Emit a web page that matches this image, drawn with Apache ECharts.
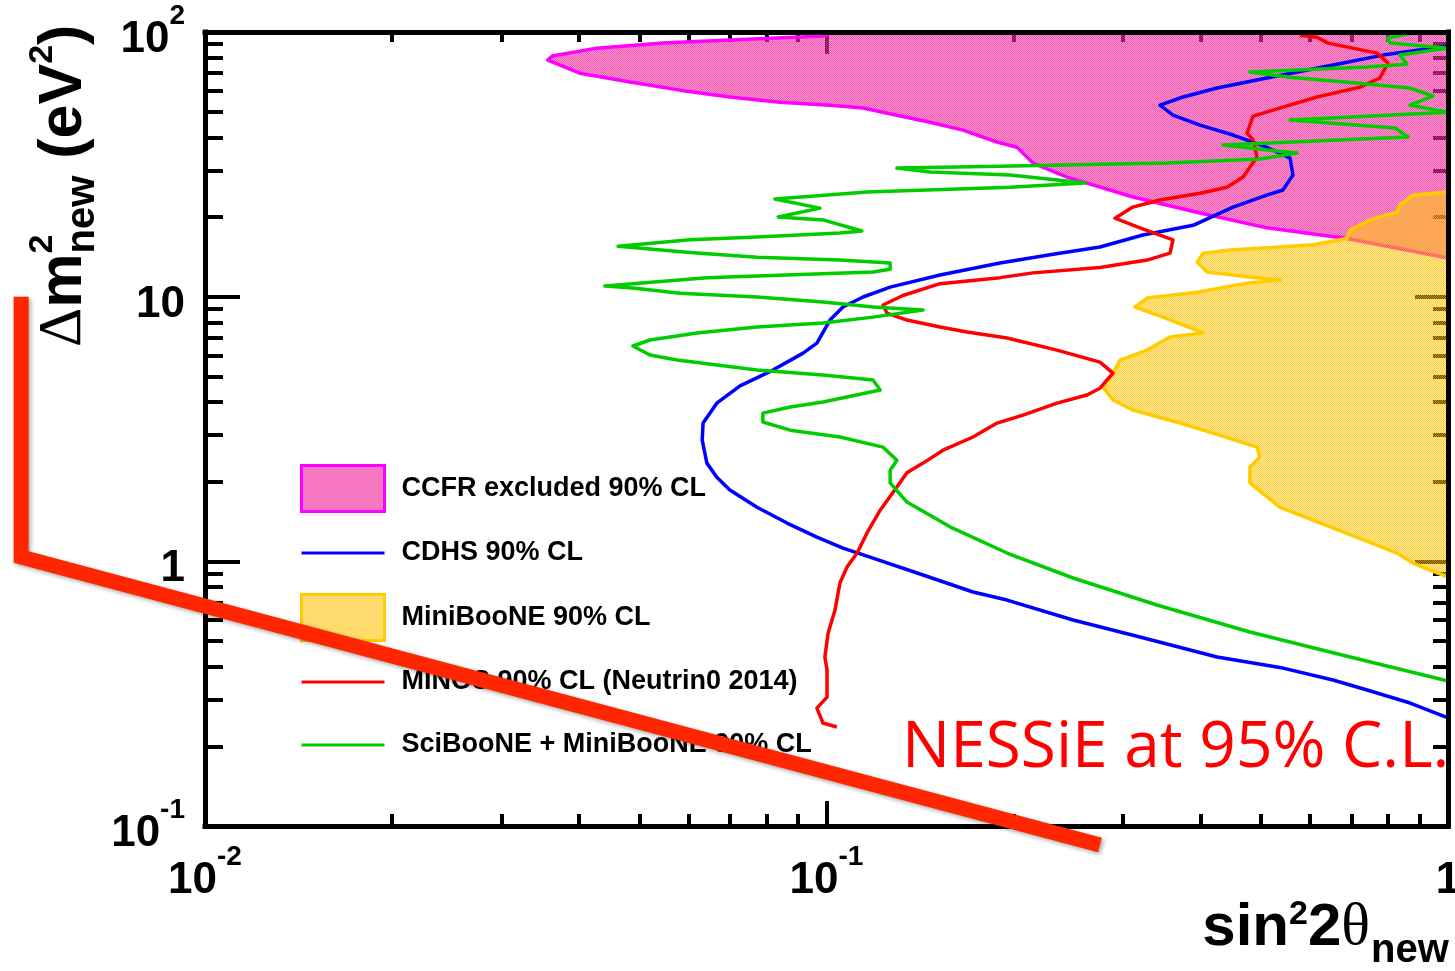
<!DOCTYPE html>
<html><head><meta charset="utf-8">
<script src="https://cdn.jsdelivr.net/npm/echarts@6/dist/echarts.min.js"></script>
<style>html,body{margin:0;padding:0;background:#fff}#c{width:1455px;height:971px}</style>
</head><body><div id="c"></div>
<script>
// ---------- data ----------
const xTickValues = [0.01, 0.1, 1];
const xTickLabels = [['10', '-2'], ['10', '-1'], ['1', '']];
const yTickValues = [0.1, 1, 10, 100];
const yTickLabels = [['10', '-1'], ['1', ''], ['10', ''], ['10', '2']];
const xMinorTicks = [0.02, 0.03, 0.04, 0.05, 0.06, 0.07, 0.08, 0.09, 0.2, 0.3, 0.4, 0.5, 0.6, 0.7, 0.8, 0.9];
const yMinorTicks = [0.2, 0.3, 0.4, 0.5, 0.6, 0.7, 0.8, 0.9, 2, 3, 4, 5, 6, 7, 8, 9, 20, 30, 40, 50, 60, 70, 80, 90];

const seriesNames = ['CCFR excluded 90% CL', 'CDHS 90% CL', 'MiniBooNE 90% CL',
  'MINOS 90% CL (Neutrin0 2014)', 'SciBooNE + MiniBooNE 90% CL'];

const ccfrX = [1.0, 0.1013, 0.0987, 0.0699, 0.0546, 0.0427, 0.0362, 0.0356, 0.0401, 0.0483, 0.0581, 0.0699,
  0.0842, 0.1013, 0.1145, 0.1298, 0.1467, 0.1658, 0.1881, 0.2025, 0.2149, 0.2438, 0.3113, 0.399, 0.5113, 0.6878, 1.0];
const ccfrY = [100, 99.1, 96.5, 93.2, 90.8, 86.9, 81.1, 78.3, 69.9, 64.7, 60.3, 56.8,
  54.3, 52.9, 51.6, 48.5, 45.6, 42.6, 38.4, 36.7, 31.96, 28.3, 23.8, 20.7, 18.2, 16.6, 14.0];

const miniX = [1.0, 0.878, 0.837, 0.828, 0.749, 0.696, 0.688, 0.606, 0.537, 0.446, 0.4035, 0.395, 0.4095, 0.475,
  0.537, 0.475, 0.395, 0.328, 0.3136, 0.348, 0.4035, 0.357, 0.328, 0.2967, 0.289, 0.2786, 0.289, 0.311, 0.3706,
  0.4187, 0.4928, 0.4983, 0.48, 0.48, 0.537, 0.646, 0.749, 0.828, 0.878, 0.9355, 1.0];
const miniY = [24.85, 24.2, 22.2, 20.9, 19.5, 17.85, 16.6, 15.7, 15.4, 15.0, 14.6, 13.5, 12.4, 11.9,
  11.55, 11.25, 10.4, 9.88, 9.14, 8.37, 7.29, 7.04, 6.28, 5.76, 5.14, 4.55, 4.07, 3.73, 3.33,
  3.05, 2.70, 2.48, 2.27, 1.98, 1.60, 1.35, 1.18, 1.075, 0.985, 0.927, 0.872];

const cdhsX = [1.0, 0.786, 0.653, 0.511, 0.425, 0.3747, 0.344, 0.361, 0.399, 0.451, 0.511, 0.557, 0.563, 0.5425,
  0.511, 0.451, 0.389, 0.323, 0.2754, 0.2289, 0.1902, 0.1523, 0.1266, 0.1145, 0.1063, 0.1013, 0.0965, 0.0917,
  0.082, 0.0726, 0.0666, 0.0633, 0.0631, 0.0642, 0.0666, 0.0699, 0.0773, 0.0864, 0.0965, 0.1063, 0.1175, 0.143,
  0.1721, 0.1952, 0.2493, 0.3194, 0.425, 0.5425, 0.653, 0.741, 0.869, 1.0];
const cdhsY = [88.5, 81.8, 75.0, 67.0, 61.4, 56.8, 52.9, 48.5, 44.5, 40.8, 36.7, 33.4, 28.8, 25.3,
  24.2, 21.8, 18.6, 17.1, 15.4, 14.4, 13.4, 12.07, 10.87, 9.97, 9.14, 8.16, 6.68, 6.12,
  5.28, 4.60, 3.96, 3.33, 2.87, 2.35, 2.08, 1.86, 1.60, 1.395, 1.235, 1.122, 1.038, 0.888,
  0.766, 0.714, 0.600, 0.518, 0.435, 0.395, 0.356, 0.3265, 0.2915, 0.256];

const minosX = [0.578, 0.6154, 0.641, 0.769, 0.8007, 0.777, 0.722, 0.6154, 0.5425, 0.4857, 0.475, 0.4857, 0.4928,
  0.468, 0.441, 0.399, 0.344, 0.311, 0.2912, 0.3194, 0.361, 0.357, 0.328, 0.2754, 0.2149, 0.1902, 0.1523, 0.1327,
  0.1233, 0.1251, 0.1347, 0.1523, 0.1683, 0.1952, 0.2349, 0.2754, 0.289, 0.2754, 0.2625, 0.2349, 0.2071, 0.1881,
  0.1721, 0.154, 0.143, 0.1347, 0.1298, 0.122, 0.1162, 0.112, 0.1079, 0.1051, 0.1032, 0.1006, 0.0994, 0.1002,
  0.1002, 0.0965, 0.0987, 0.1039];
const minosY = [97.3, 95.6, 90.8, 83.2, 76.3, 67.0, 61.9, 56.8, 52.0, 48.1, 41.5, 39.1, 33.7,
  28.3, 25.9, 24.6, 23.2, 21.8, 19.8, 18.2, 16.4, 14.6, 13.75, 12.9, 12.3, 11.8, 11.2, 10.1,
  9.30, 8.67, 8.16, 7.68, 7.35, 6.98, 6.28, 5.66, 5.14, 4.51, 4.25, 3.96, 3.57, 3.33,
  2.95, 2.63, 2.35, 2.16, 1.91, 1.56, 1.28, 1.075, 0.952, 0.828, 0.655, 0.536, 0.435, 0.389,
  0.307, 0.279, 0.245, 0.2366];

const sciX = [1.0, 0.878, 0.798, 0.807, 1.0, 0.837, 0.859, 0.741, 0.48, 0.557, 0.741, 0.869, 0.946, 0.869, 1.0,
  0.557, 0.822, 0.862, 0.4345, 0.511, 0.5717, 0.4983, 0.353, 0.1902, 0.1298, 0.1467, 0.1974, 0.2606, 0.1974,
  0.1162, 0.0826, 0.0976, 0.0836, 0.0987, 0.114, 0.1051, 0.0773, 0.0603, 0.0462, 0.0603, 0.0773, 0.1051, 0.1266,
  0.1266, 0.1188, 0.0773, 0.0642, 0.044, 0.0488, 0.0581, 0.0773, 0.0987, 0.1188, 0.143, 0.1188, 0.0987, 0.0773,
  0.0619, 0.052, 0.0488, 0.052, 0.0575, 0.0773, 0.0987, 0.1188, 0.122, 0.0987, 0.0874, 0.079, 0.079, 0.0874,
  0.1051, 0.1233, 0.1298, 0.1266, 0.1266, 0.1347, 0.158, 0.1952, 0.2493, 0.3402, 0.48, 0.696, 1.0];
const sciY = [100, 99.1, 94.8, 90.8, 86.9, 81.8, 75.6, 73.7, 70.6, 67.5, 63.6, 61.4, 57.3, 52.9, 49.8,
  46.5, 43.4, 40.1, 37.4, 35.8, 34.9, 33.1, 31.96, 31.1, 30.6, 29.6, 28.8, 26.9, 25.9,
  24.85, 23.4, 21.6, 20.0, 19.5, 17.7, 17.4, 16.8, 16.4, 15.5, 14.7, 14.1, 13.75, 13.4,
  12.7, 12.4, 11.96, 11.8, 10.97, 10.78, 10.3, 9.97, 9.54, 9.14, 8.90, 8.37, 7.95, 7.68,
  7.29, 6.86, 6.51, 6.02, 5.76, 5.28, 5.06, 4.84, 4.44, 4.00, 3.83, 3.63, 3.36, 3.13,
  2.95, 2.70, 2.41, 2.21, 1.98, 1.675, 1.35, 1.075, 0.865, 0.684, 0.541, 0.435, 0.353];

// hand-drawn NESSiE sensitivity annotation (extends beyond the frame)
const nessieX = [0.00506, 0.00506, 0.2754];
const nessieY = [10, 1.038, 0.0848];
const nessieText = 'NESSiE at 95% C.L.';

// ---------- styling helpers ----------
function checker(colorA, colorB, cell) {
  const c = document.createElement('canvas');
  c.width = c.height = cell * 2;
  const g = c.getContext('2d');
  g.fillStyle = colorB;
  g.fillRect(cell, 0, cell, cell);
  g.fillRect(0, cell, cell, cell);
  g.fillStyle = colorA;
  g.fillRect(0, 0, cell, cell);
  g.fillRect(cell, cell, cell, cell);
  return { image: c, repeat: 'repeat' };
}
const pinkPat = checker('rgba(240,44,156,0.8)', 'rgba(240,44,156,0.48)', 1);
const orangePat = checker('rgba(255,192,0,0.75)', 'rgba(255,192,0,0.4)', 1);

const FONT = 'Liberation Sans';
const labelRich = {
  b: { fontFamily: FONT, fontWeight: 'bold', fontSize: 44, color: '#000', lineHeight: 60, verticalAlign: 'bottom' },
  s: { fontFamily: FONT, fontWeight: 'bold', fontSize: 28, color: '#000', lineHeight: 28, verticalAlign: 'top' }
};
function fmt(values, labels) {
  return function (v) {
    const i = values.findIndex(t => Math.abs(Math.log10(t) - Math.log10(v)) < 1e-6);
    if (i < 0) return '';
    const p = labels[i];
    return p[1] ? '{b|' + p[0] + '}{s|' + p[1] + '}' : '{b|' + p[0] + '}';
  };
}
function pairs(xs, ys) { return xs.map((x, i) => [x, ys[i]]); }

function logAxis(base, extra) {
  return Object.assign({
    type: 'log', logBase: 10, min: base[0], max: base[1],
    splitLine: { show: false }, minorTick: { show: false }, minorSplitLine: { show: false },
    axisLine: { show: false, onZero: false },
    axisTick: { show: false },
    axisLabel: { show: false }
  }, extra);
}
const blackLine = { show: true, onZero: false, lineStyle: { color: '#000', width: 5, cap: 'square' } };
function ticks(len, custom) {
  const t = { show: true, inside: true, length: len, lineStyle: { color: '#000', width: 4 } };
  if (custom) t.customValues = custom;
  return t;
}
const XR = [0.01, 1], YR = [0.1, 100];

function polygonSeries(name, xs, ys, fill, stroke, width) {
  return {
    type: 'custom', name: name, coordinateSystem: 'cartesian2d', xAxisIndex: 0, yAxisIndex: 0,
    clip: true, z: 2, silent: true,
    itemStyle: { color: fill, borderColor: stroke, borderWidth: width },
    data: [[0.5, 1]],
    renderItem: function (params, api) {
      const pts = xs.map((x, i) => api.coord([x, ys[i]]));
      return {
        type: 'polygon', shape: { points: pts },
        style: { fill: fill, stroke: stroke, lineWidth: width, lineJoin: 'round' }
      };
    }
  };
}
function lineSeries(name, xs, ys, color) {
  return {
    type: 'line', name: name, xAxisIndex: 0, yAxisIndex: 0, data: pairs(xs, ys),
    symbol: 'none', showSymbol: false, clip: true, z: 3, silent: true,
    itemStyle: { color: color }, lineStyle: { color: color, width: 3.5, join: 'round' }
  };
}

const lineIcon = 'path://M0,0H80V3H0Z';
const chart = echarts.init(document.getElementById('c'), null, { renderer: 'canvas', width: 1455, height: 971 });
chart.setOption({
  animation: false,
  backgroundColor: '#fff',
  grid: { left: 205, top: 32, width: 1243, height: 794, containLabel: false, outerBoundsMode: 'none' },
  xAxis: [
    logAxis(XR, { position: 'bottom', z: 5, axisLine: blackLine, axisTick: ticks(25),
      axisLabel: { show: true, margin: 17, formatter: fmt(xTickValues, xTickLabels), rich: labelRich } }),
    logAxis(XR, { position: 'bottom', z: 5, axisTick: ticks(12, xMinorTicks) }),
    logAxis(XR, { position: 'top', z: 6, axisLine: blackLine }),
    logAxis(XR, { position: 'top', z: 0, axisTick: ticks(22) }),
    logAxis(XR, { position: 'top', z: 0, axisTick: ticks(10, xMinorTicks) })
  ],
  yAxis: [
    logAxis(YR, { position: 'left', z: 5, axisLine: blackLine, axisTick: ticks(35),
      axisLabel: { show: true, margin: 20, formatter: fmt(yTickValues, yTickLabels), rich: labelRich } }),
    logAxis(YR, { position: 'left', z: 5, axisTick: ticks(18, yMinorTicks) }),
    logAxis(YR, { position: 'right', z: 6, axisLine: blackLine }),
    logAxis(YR, { position: 'right', z: 0, axisTick: ticks(33) }),
    logAxis(YR, { position: 'right', z: 0, axisTick: ticks(15, yMinorTicks) })
  ],
  legend: {
    orient: 'vertical', left: 300, top: 464, padding: 0, itemWidth: 83, itemHeight: 46, itemGap: 17,
    selectedMode: false, z: 4,
    textStyle: { fontFamily: FONT, fontWeight: 'bold', fontSize: 27, lineHeight: 46, color: '#000', padding: [0, 0, 0, 12] },
    data: [
      { name: seriesNames[0], icon: 'rect', itemStyle: { color: pinkPat, borderColor: '#ff00ff', borderWidth: 3 } },
      { name: seriesNames[1], icon: lineIcon, itemStyle: { color: '#0000ff', borderWidth: 0 } },
      { name: seriesNames[2], icon: 'rect', itemStyle: { color: orangePat, borderColor: '#ffcc00', borderWidth: 3 } },
      { name: seriesNames[3], icon: lineIcon, itemStyle: { color: '#ff0000', borderWidth: 0 } },
      { name: seriesNames[4], icon: lineIcon, itemStyle: { color: '#00cc00', borderWidth: 0 } }
    ]
  },
  graphic: [
    { type: 'text', x: 902, y: 749, z: 1,
      style: { text: nessieText, font: '64px "Open Sans"', fill: '#ff0000', verticalAlign: 'middle', align: 'left' } },
    { type: 'text', x: 1370, y: 928, z: 1,
      style: {
        text: '{b|sin}{p|2}{b|2}{t|θ}', align: 'right', verticalAlign: 'middle',
        rich: {
          b: { fontFamily: FONT, fontWeight: 'bold', fontSize: 60, lineHeight: 61, fill: '#000' },
          t: { fontFamily: 'Liberation Serif', fontSize: 60, lineHeight: 61, fill: '#000' },
          p: { fontFamily: FONT, fontWeight: 'bold', fontSize: 34, lineHeight: 34, verticalAlign: 'top', fill: '#000' }
        }
      } },
    { type: 'text', x: 1371, y: 951, z: 1,
      style: { text: 'new', font: 'bold 40px "Liberation Sans"', fill: '#000', align: 'left', verticalAlign: 'middle' } },
    { type: 'group', x: 64, y: 347, rotation: Math.PI / 2, z: 1,
      children: [
        { type: 'text', style: {
          text: '{d|Δ}{b|m}{u|new}{b| (eV}{p|2}{b|)}', align: 'left', verticalAlign: 'middle',
          rich: {
            d: { fontFamily: 'Liberation Serif', fontSize: 61, lineHeight: 77, fill: '#000' },
            b: { fontFamily: FONT, fontWeight: 'bold', fontSize: 61, lineHeight: 77, fill: '#000' },
            p: { fontFamily: FONT, fontWeight: 'bold', fontSize: 34, lineHeight: 34, verticalAlign: 'top', fill: '#000' },
            u: { fontFamily: FONT, fontWeight: 'bold', fontSize: 40, lineHeight: 40, verticalAlign: 'bottom', fill: '#000' }
          } } },
        { type: 'text', style: {
          text: '{d|Δ}{b|m}{p|2}', align: 'left', verticalAlign: 'middle',
          rich: {
            d: { fontFamily: 'Liberation Serif', fontSize: 61, lineHeight: 77, fill: 'rgba(0,0,0,0)' },
            b: { fontFamily: FONT, fontWeight: 'bold', fontSize: 61, lineHeight: 77, fill: 'rgba(0,0,0,0)' },
            p: { fontFamily: FONT, fontWeight: 'bold', fontSize: 34, lineHeight: 34, verticalAlign: 'top', fill: '#000' }
          } } }
      ] }
  ],
  series: [
    polygonSeries(seriesNames[0], ccfrX, ccfrY, pinkPat, '#ff00ff', 3.5),
    polygonSeries(seriesNames[2], miniX, miniY, orangePat, '#ffcc00', 3.5),
    lineSeries(seriesNames[1], cdhsX, cdhsY, '#0000ff'),
    lineSeries(seriesNames[3], minosX, minosY, '#ff0000'),
    lineSeries(seriesNames[4], sciX, sciY, '#00cc00'),
    {
      type: 'custom', name: 'NESSiE', coordinateSystem: 'cartesian2d', xAxisIndex: 0, yAxisIndex: 0,
      clip: false, z: 10, silent: true, data: [[0.5, 1]],
      renderItem: function (params, api) {
        return {
          type: 'polyline',
          shape: { points: nessieX.map((x, i) => api.coord([x, nessieY[i]])) },
          style: { stroke: '#ff2600', fill: null, lineWidth: 15, lineCap: 'butt', lineJoin: 'miter',
            shadowColor: 'rgba(0,0,0,0.35)', shadowBlur: 4, shadowOffsetX: 2, shadowOffsetY: 2 }
        };
      }
    }
  ]
});
</script>
</body></html>
